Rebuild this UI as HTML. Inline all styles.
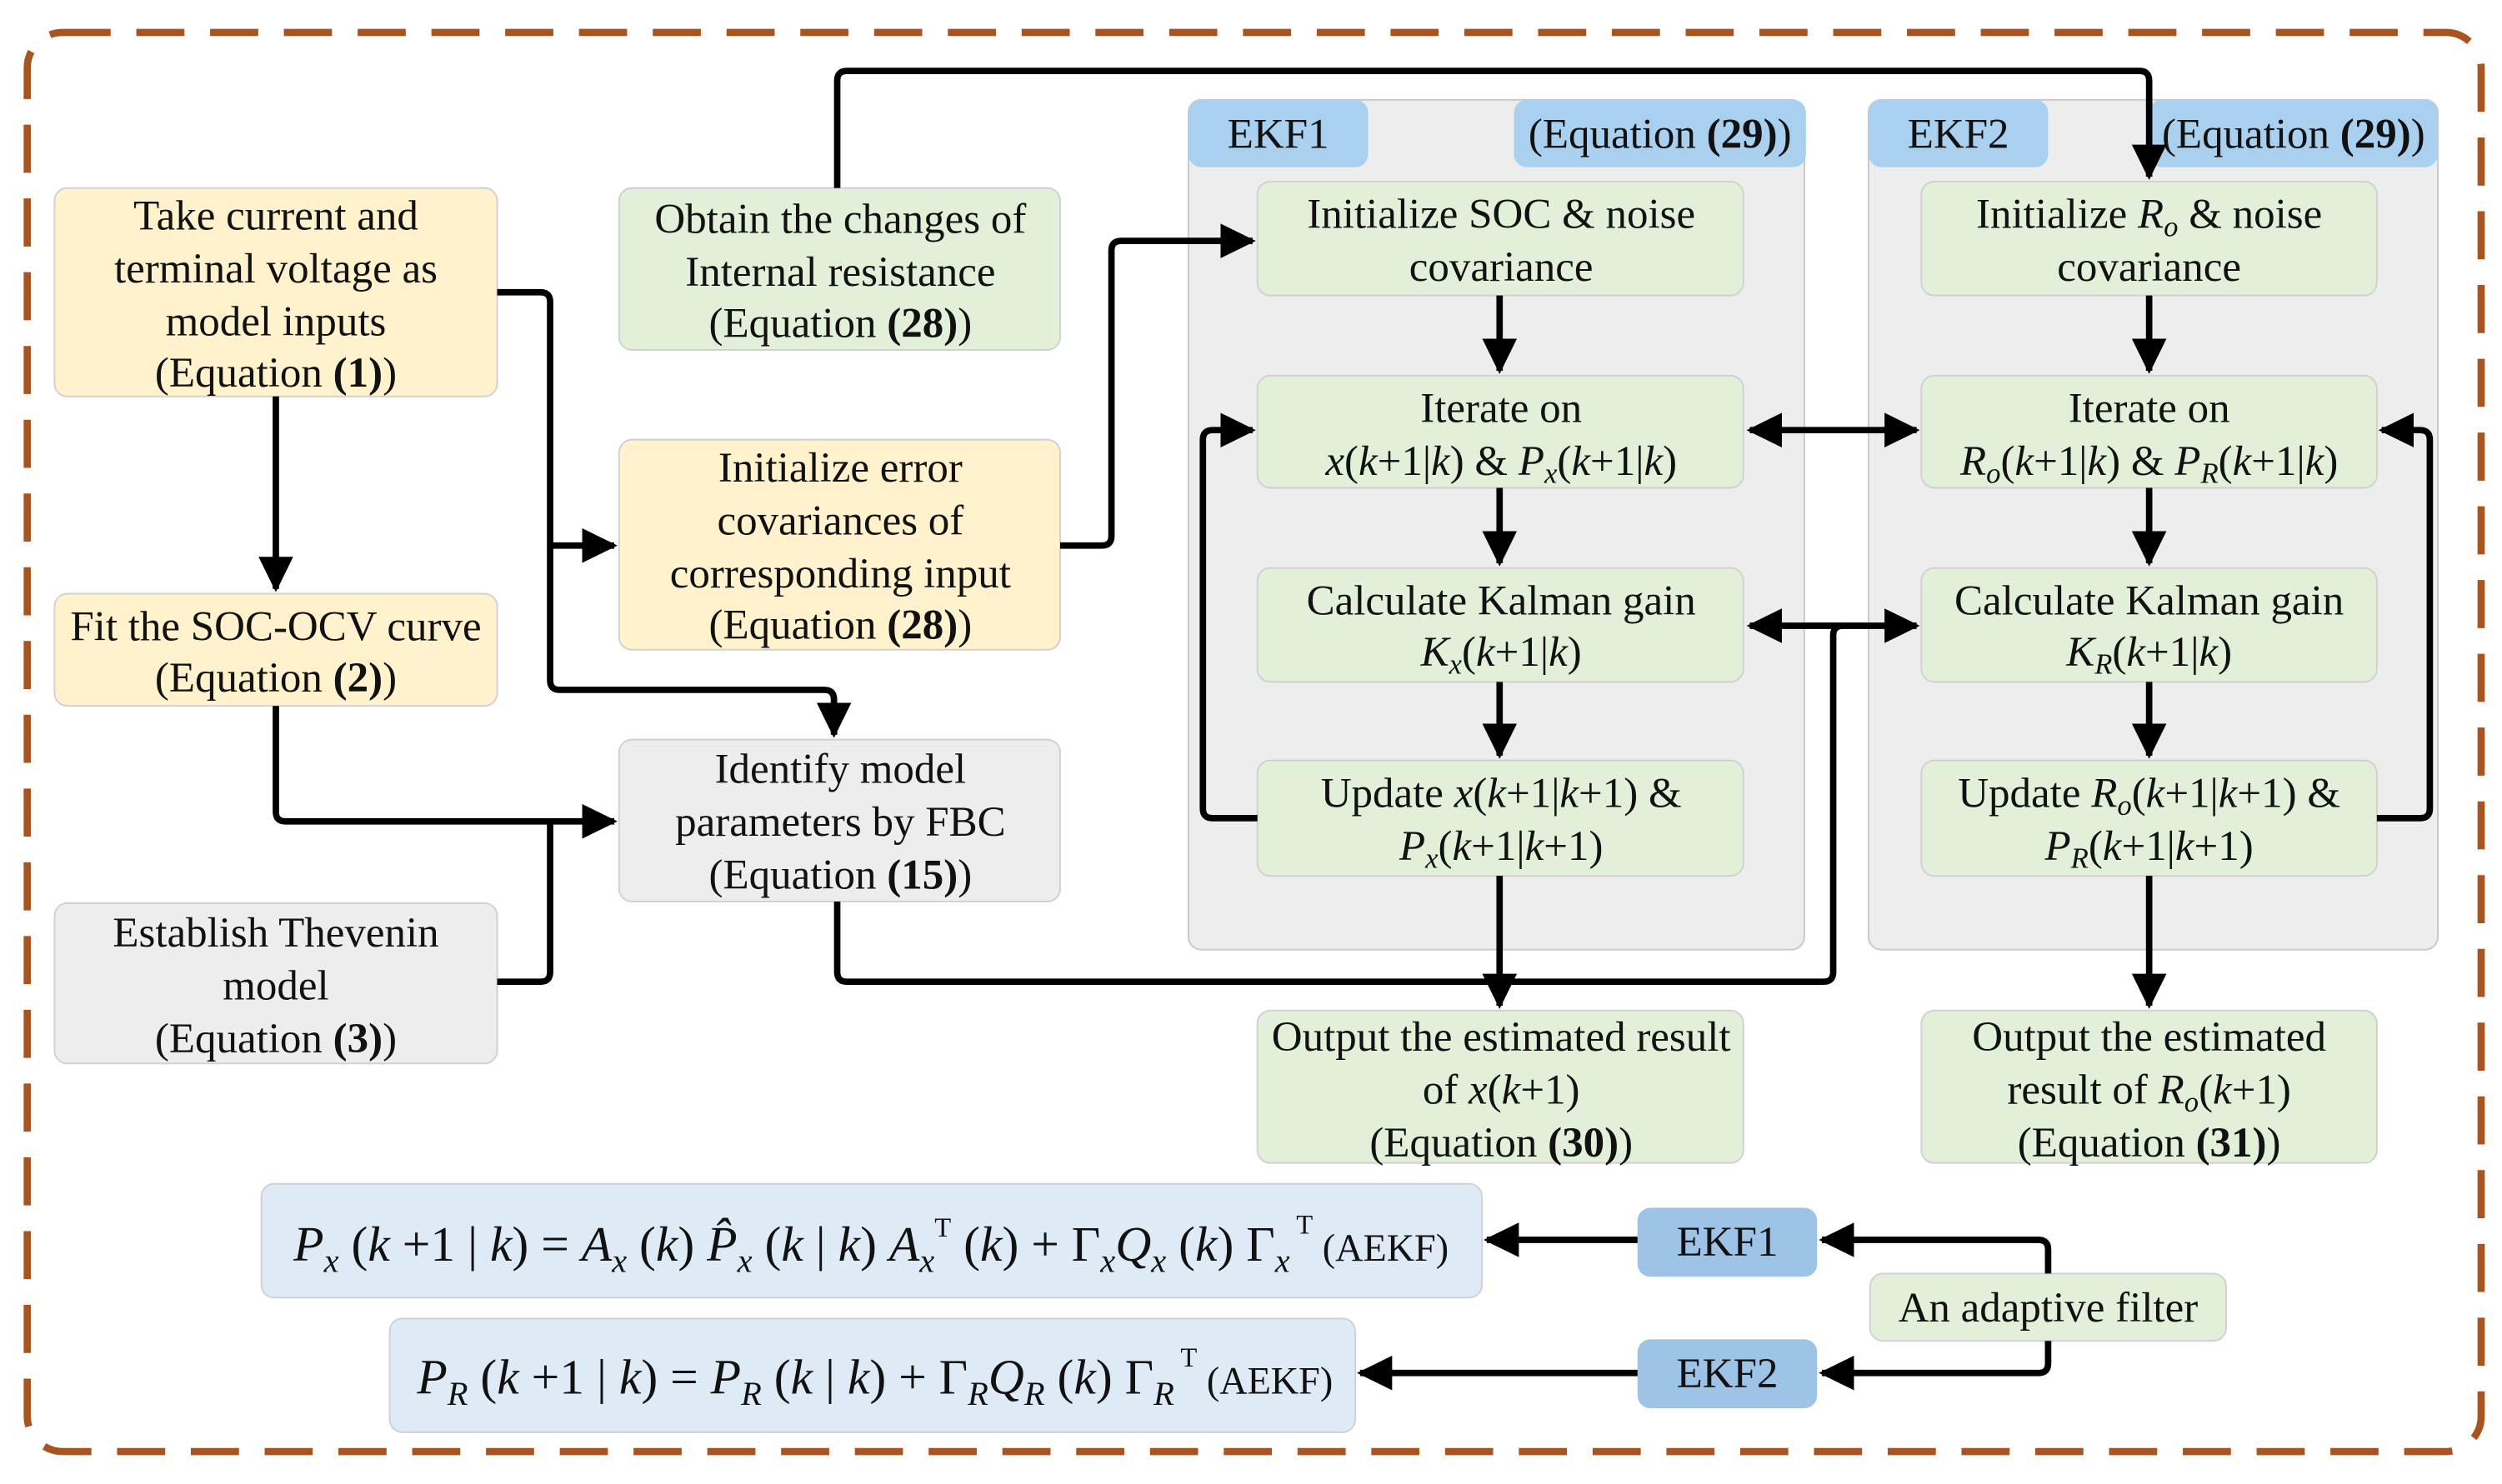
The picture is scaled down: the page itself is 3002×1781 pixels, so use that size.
<!DOCTYPE html>
<html><head><meta charset="utf-8"><style>
html,body{margin:0;padding:0;background:#fff;}
svg{display:block}
text{font-family:"Liberation Serif",serif;fill:#111;}
</style></head><body>
<svg width="3002" height="1781" viewBox="0 0 1560 925" xmlns="http://www.w3.org/2000/svg">
<defs>
<marker id="a" markerWidth="6" markerHeight="6" refX="5" refY="3" orient="auto" markerUnits="strokeWidth">
<path d="M0,0.3 L5.5,3 L0,5.7 Z" fill="#000"/></marker>
<marker id="s" markerWidth="6" markerHeight="6" refX="1" refY="3" orient="auto" markerUnits="strokeWidth">
<path d="M6,0.3 L0.5,3 L6,5.7 Z" fill="#000"/></marker>
</defs>
<rect x="17" y="20" width="1530" height="885" rx="22" fill="none" stroke="#A9531F" stroke-width="4.5" stroke-dasharray="30 16"/>

<rect x="741" y="62" width="384" height="530" rx="8" fill="#EDEDED" stroke="#c8c8c8"/>
<rect x="1165" y="62" width="355" height="530" rx="8" fill="#EDEDED" stroke="#c8c8c8"/>
<rect x="741" y="62" width="112" height="42" rx="8" fill="#A9D0EE"/>
<rect x="944" y="62" width="182" height="42" rx="8" fill="#A9D0EE"/>
<rect x="1165" y="62" width="112" height="42" rx="8" fill="#A9D0EE"/>
<rect x="1340" y="62" width="180" height="42" rx="8" fill="#A9D0EE"/>
<g font-size="26.5" text-anchor="middle">
<text x="797" y="92">EKF1</text>
<text x="1035" y="92">(Equation <tspan font-weight="bold">(29)</tspan>)</text>
<text x="1221" y="92">EKF2</text>
<text x="1430" y="92">(Equation <tspan font-weight="bold">(29)</tspan>)</text>
</g>

<g stroke="#d0d0d0" stroke-width="1">
<rect x="34" y="117" width="276" height="130" rx="8" fill="#FFF2CC"/>
<rect x="34" y="370" width="276" height="70" rx="8" fill="#FFF2CC"/>
<rect x="34" y="563" width="276" height="100" rx="8" fill="#EDEDED"/>
<rect x="386" y="117" width="275" height="101" rx="8" fill="#E2F0D9"/>
<rect x="386" y="274" width="275" height="131" rx="8" fill="#FFF2CC"/>
<rect x="386" y="461" width="275" height="101" rx="8" fill="#EDEDED"/>
<rect x="784" y="113" width="303" height="71" rx="8" fill="#E2F0D9"/>
<rect x="784" y="234" width="303" height="70" rx="8" fill="#E2F0D9"/>
<rect x="784" y="354" width="303" height="71" rx="8" fill="#E2F0D9"/>
<rect x="784" y="474" width="303" height="72" rx="8" fill="#E2F0D9"/>
<rect x="784" y="630" width="303" height="95" rx="8" fill="#E2F0D9"/>
<rect x="1198" y="113" width="284" height="71" rx="8" fill="#E2F0D9"/>
<rect x="1198" y="234" width="284" height="70" rx="8" fill="#E2F0D9"/>
<rect x="1198" y="354" width="284" height="71" rx="8" fill="#E2F0D9"/>
<rect x="1198" y="474" width="284" height="72" rx="8" fill="#E2F0D9"/>
<rect x="1198" y="630" width="284" height="95" rx="8" fill="#E2F0D9"/>
<rect x="163" y="738" width="761" height="71" rx="8" fill="#DEEBF7"/>
<rect x="243" y="822" width="602" height="71" rx="8" fill="#DEEBF7"/>
<rect x="1166" y="794" width="222" height="42" rx="8" fill="#E2F0D9"/>
</g>
<rect x="1021" y="753" width="112" height="43" rx="8" fill="#9DC3E6"/>
<rect x="1021" y="835" width="112" height="43" rx="8" fill="#9DC3E6"/>

<g font-size="26.5" text-anchor="middle">
<text x="172" y="143">Take current and</text>
<text x="172" y="176">terminal voltage as</text>
<text x="172" y="209">model inputs</text>
<text x="172" y="241">(Equation <tspan font-weight="bold">(1)</tspan>)</text>
<text x="172" y="399">Fit the SOC-OCV curve</text>
<text x="172" y="431">(Equation <tspan font-weight="bold">(2)</tspan>)</text>
<text x="172" y="590">Establish Thevenin</text>
<text x="172" y="623">model</text>
<text x="172" y="656">(Equation <tspan font-weight="bold">(3)</tspan>)</text>
<text x="524" y="145">Obtain the changes of</text>
<text x="524" y="178">Internal resistance</text>
<text x="524" y="210">(Equation <tspan font-weight="bold">(28)</tspan>)</text>
<text x="524" y="300">Initialize error</text>
<text x="524" y="333">covariances of</text>
<text x="524" y="366">corresponding input</text>
<text x="524" y="398">(Equation <tspan font-weight="bold">(28)</tspan>)</text>
<text x="524" y="488">Identify model</text>
<text x="524" y="521">parameters by FBC</text>
<text x="524" y="554">(Equation <tspan font-weight="bold">(15)</tspan>)</text>

<text x="936" y="142">Initialize SOC &amp; noise</text>
<text x="936" y="175">covariance</text>
<text x="936" y="263">Iterate on</text>
<text x="936" y="296"><tspan font-style="italic">x</tspan>(<tspan font-style="italic">k</tspan>+1|<tspan font-style="italic">k</tspan>) &amp; <tspan font-style="italic">P<tspan font-size="18" dy="5">x</tspan></tspan><tspan dy="-5">(</tspan><tspan font-style="italic">k</tspan>+1|<tspan font-style="italic">k</tspan>)</text>
<text x="936" y="383">Calculate Kalman gain</text>
<text x="936" y="415"><tspan font-style="italic">K<tspan font-size="18" dy="5">x</tspan></tspan><tspan dy="-5">(</tspan><tspan font-style="italic">k</tspan>+1|<tspan font-style="italic">k</tspan>)</text>
<text x="936" y="503">Update <tspan font-style="italic">x</tspan>(<tspan font-style="italic">k</tspan>+1|<tspan font-style="italic">k</tspan>+1) &amp;</text>
<text x="936" y="536"><tspan font-style="italic">P<tspan font-size="18" dy="5">x</tspan></tspan><tspan dy="-5">(</tspan><tspan font-style="italic">k</tspan>+1|<tspan font-style="italic">k</tspan>+1)</text>
<text x="936" y="655">Output the estimated result</text>
<text x="936" y="688">of <tspan font-style="italic">x</tspan>(<tspan font-style="italic">k</tspan>+1)</text>
<text x="936" y="721">(Equation <tspan font-weight="bold">(30)</tspan>)</text>

<text x="1340" y="142">Initialize <tspan font-style="italic">R<tspan font-size="18" dy="5">o</tspan></tspan><tspan dy="-5"> &amp; noise</tspan></text>
<text x="1340" y="175">covariance</text>
<text x="1340" y="263">Iterate on</text>
<text x="1340" y="296"><tspan font-style="italic">R<tspan font-size="18" dy="5">o</tspan></tspan><tspan dy="-5">(</tspan><tspan font-style="italic">k</tspan>+1|<tspan font-style="italic">k</tspan>) &amp; <tspan font-style="italic">P<tspan font-size="18" dy="5">R</tspan></tspan><tspan dy="-5">(</tspan><tspan font-style="italic">k</tspan>+1|<tspan font-style="italic">k</tspan>)</text>
<text x="1340" y="383">Calculate Kalman gain</text>
<text x="1340" y="415"><tspan font-style="italic">K<tspan font-size="18" dy="5">R</tspan></tspan><tspan dy="-5">(</tspan><tspan font-style="italic">k</tspan>+1|<tspan font-style="italic">k</tspan>)</text>
<text x="1340" y="503">Update <tspan font-style="italic">R<tspan font-size="18" dy="5">o</tspan></tspan><tspan dy="-5">(</tspan><tspan font-style="italic">k</tspan>+1|<tspan font-style="italic">k</tspan>+1) &amp;</text>
<text x="1340" y="536"><tspan font-style="italic">P<tspan font-size="18" dy="5">R</tspan></tspan><tspan dy="-5">(</tspan><tspan font-style="italic">k</tspan>+1|<tspan font-style="italic">k</tspan>+1)</text>
<text x="1340" y="655">Output the estimated</text>
<text x="1340" y="688">result of <tspan font-style="italic">R<tspan font-size="18" dy="5">o</tspan></tspan><tspan dy="-5">(</tspan><tspan font-style="italic">k</tspan>+1)</text>
<text x="1340" y="721">(Equation <tspan font-weight="bold">(31)</tspan>)</text>

<text x="1077" y="783">EKF1</text>
<text x="1077" y="865">EKF2</text>
<text x="1277" y="824">An adaptive filter</text>
</g>

<g font-size="31">
<text x="183" y="786"><tspan font-style="italic">P<tspan font-size="21" dy="7">x</tspan></tspan><tspan dy="-7"> (</tspan><tspan font-style="italic">k</tspan> +1 | <tspan font-style="italic">k</tspan>) = <tspan font-style="italic">A<tspan font-size="21" dy="7">x</tspan></tspan><tspan dy="-7"> (</tspan><tspan font-style="italic">k</tspan>) <tspan font-style="italic">P̂<tspan font-size="21" dy="7">x</tspan></tspan><tspan dy="-7"> (</tspan><tspan font-style="italic">k</tspan> | <tspan font-style="italic">k</tspan>) <tspan font-style="italic">A<tspan font-size="21" dy="7">x</tspan></tspan><tspan font-size="17" dy="-22">T</tspan><tspan dy="15"> (</tspan><tspan font-style="italic">k</tspan>) + Γ<tspan font-size="21" font-style="italic" dy="7">x</tspan><tspan font-style="italic" dy="-7">Q<tspan font-size="21" dy="7">x</tspan></tspan><tspan dy="-7"> (</tspan><tspan font-style="italic">k</tspan>) Γ<tspan font-size="21" font-style="italic" dy="7">x</tspan><tspan font-size="17" dy="-24"> T</tspan><tspan font-size="24" dy="17"> (AEKF)</tspan></text>
<text x="260" y="869"><tspan font-style="italic">P<tspan font-size="21" dy="7">R</tspan></tspan><tspan dy="-7"> (</tspan><tspan font-style="italic">k</tspan> +1 | <tspan font-style="italic">k</tspan>) = <tspan font-style="italic">P<tspan font-size="21" dy="7">R</tspan></tspan><tspan dy="-7"> (</tspan><tspan font-style="italic">k</tspan> | <tspan font-style="italic">k</tspan>) + Γ<tspan font-size="21" font-style="italic" dy="7">R</tspan><tspan font-style="italic" dy="-7">Q<tspan font-size="21" dy="7">R</tspan></tspan><tspan dy="-7"> (</tspan><tspan font-style="italic">k</tspan>) Γ<tspan font-size="21" font-style="italic" dy="7">R</tspan><tspan font-size="17" dy="-24"> T</tspan><tspan font-size="24" dy="17"> (AEKF)</tspan></text>
</g>

<g fill="none" stroke="#000" stroke-width="4" stroke-linejoin="round">
<path d="M310,182 H337 Q343,182 343,188 V340 H383" marker-end="url(#a)"/>
<path d="M343,340 V424 Q343,430 349,430 H514 Q520,430 520,436 V458" marker-end="url(#a)"/>
<path d="M172,247 V367" marker-end="url(#a)"/>
<path d="M172,440 V506 Q172,512 178,512 H383" marker-end="url(#a)"/>
<path d="M310,612 H337 Q343,612 343,606 V512"/>
<path d="M661,340 H687 Q693,340 693,334 V156 Q693,150 699,150 H781" marker-end="url(#a)"/>
<path d="M522,117 V50 Q522,44 528,44 H1334 Q1340,44 1340,50 V110" marker-end="url(#a)"/>
<path d="M935,184 V231" marker-end="url(#a)"/>
<path d="M935,304 V351" marker-end="url(#a)"/>
<path d="M935,425 V471" marker-end="url(#a)"/>
<path d="M935,546 V627" marker-end="url(#a)"/>
<path d="M1340,184 V231" marker-end="url(#a)"/>
<path d="M1340,304 V351" marker-end="url(#a)"/>
<path d="M1340,425 V471" marker-end="url(#a)"/>
<path d="M1340,546 V627" marker-end="url(#a)"/>
<path d="M784,510 H756 Q750,510 750,504 V274 Q750,268 756,268 H781" marker-end="url(#a)"/>
<path d="M1482,510 H1509 Q1515,510 1515,504 V274 Q1515,268 1509,268 H1485" marker-end="url(#a)"/>
<path d="M1091,268 H1195" marker-start="url(#s)" marker-end="url(#a)"/>
<path d="M1091,390 H1195" marker-start="url(#s)" marker-end="url(#a)"/>
<path d="M522,562 V606 Q522,612 528,612 H1137 Q1143,612 1143,606 V396 Q1143,390 1149,390"/>
<path d="M1277,794 V779 Q1277,773 1271,773 H1136" marker-end="url(#a)"/>
<path d="M1277,836 V850 Q1277,856 1271,856 H1136" marker-end="url(#a)"/>
<path d="M1021,773 H927" marker-end="url(#a)"/>
<path d="M1021,856 H848" marker-end="url(#a)"/>
</g>
</svg>
</body></html>
